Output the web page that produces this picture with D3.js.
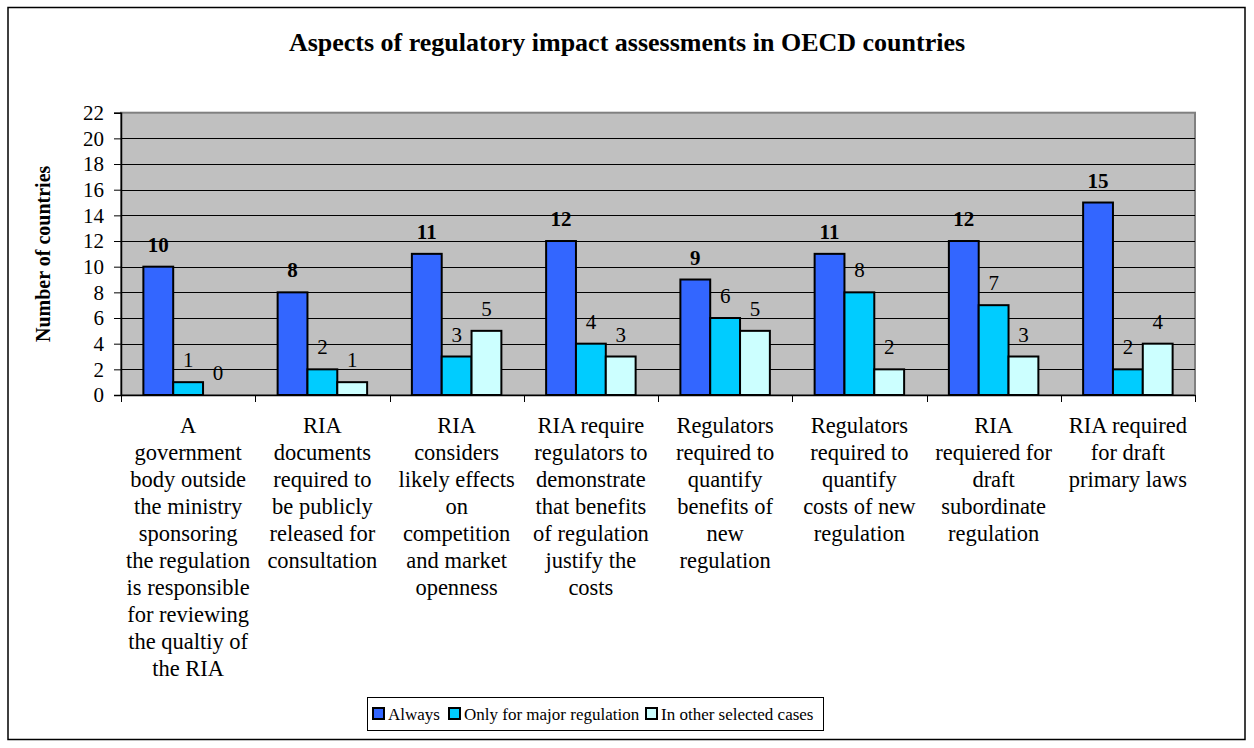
<!DOCTYPE html>
<html>
<head>
<meta charset="utf-8">
<script src="https://cdn.jsdelivr.net/npm/d3@7"></script>
<style>
  html, body { margin: 0; padding: 0; background: #fff; }
  svg { display: block; }
  text { font-family: "Liberation Serif", "Times New Roman", serif; fill: #000; }
</style>
</head>
<body>
<script>
// ---- data ----
const categories = [
  ["A", "government", "body outside", "the ministry", "sponsoring", "the regulation", "is responsible", "for reviewing", "the qualtiy of", "the RIA"],
  ["RIA", "documents", "required to", "be publicly", "released for", "consultation"],
  ["RIA", "considers", "likely effects", "on", "competition", "and market", "openness"],
  ["RIA require", "regulators to", "demonstrate", "that benefits", "of regulation", "justify the", "costs"],
  ["Regulators", "required to", "quantify", "benefits of", "new", "regulation"],
  ["Regulators", "required to", "quantify", "costs of new", "regulation"],
  ["RIA", "requiered for", "draft", "subordinate", "regulation"],
  ["RIA required", "for draft", "primary laws"]
];
const seriesNames = ["Always", "Only for major regulation", "In other selected cases"];
const always = [10, 8, 11, 12, 9, 11, 12, 15];
const majorOnly = [1, 2, 3, 4, 6, 8, 7, 2];
const otherCases = [0, 1, 5, 3, 5, 2, 3, 4];
const yTicks = [0, 2, 4, 6, 8, 10, 12, 14, 16, 18, 20, 22];
const colors = ["#3366FF", "#00CCFF", "#CCFFFF"];
const title = "Aspects of regulatory impact assessments in OECD countries";
const yTitle = "Number of countries";

// ---- layout ----
const W = 1254, H = 748;
const plot = { left: 121, right: 1195, top: 112.7, bottom: 395 };

const svg = d3.select("body").append("svg").attr("width", W).attr("height", H);

// outer border
svg.append("rect").attr("x", 8).attr("y", 7.5).attr("width", 1237).attr("height", 732)
  .attr("fill", "#fff").attr("stroke", "#000").attr("stroke-width", 1.5);

const x = d3.scaleBand().domain(d3.range(categories.length)).range([plot.left, plot.right]).padding(0);
const y = d3.scaleLinear().domain([0, 22]).range([plot.bottom, plot.top]);
const groupFrac = 3 / 4.5;
const xs = d3.scaleBand().domain([0, 1, 2])
  .range([x.bandwidth() * (1 - groupFrac) / 2, x.bandwidth() * (1 + groupFrac) / 2]).padding(0);

// plot background
svg.append("rect").attr("x", plot.left).attr("y", plot.top)
  .attr("width", plot.right - plot.left).attr("height", plot.bottom - plot.top)
  .attr("fill", "#C0C0C0").attr("stroke", "#808080").attr("stroke-width", 2);

// gridlines
svg.append("g").selectAll("line").data(yTicks.filter(t => t > 0 && t < 22)).join("line")
  .attr("x1", plot.left).attr("x2", plot.right)
  .attr("y1", d => Math.round(y(d)) + 0.5).attr("y2", d => Math.round(y(d)) + 0.5)
  .attr("stroke", "#000").attr("stroke-width", 1);

// y axis
const yAxis = d3.axisLeft(y).tickValues(yTicks).tickSize(7).tickPadding(10).tickFormat(d3.format("d"));
const yg = svg.append("g").attr("transform", `translate(${plot.left},0)`).call(yAxis);
yg.select(".domain").attr("stroke", "#000").attr("stroke-width", 1.5);
yg.selectAll(".tick line").attr("stroke", "#000");
yg.selectAll(".tick text").attr("font-size", 21).attr("font-family", "Liberation Serif").attr("fill", "#000");

// bars
const series = [always, majorOnly, otherCases];
series.forEach((vals, si) => {
  svg.append("g").selectAll("rect").data(vals).join("rect")
    .attr("x", (d, i) => x(i) + xs(si))
    .attr("y", d => y(d))
    .attr("width", xs.bandwidth())
    .attr("height", d => y(0) - y(d))
    .attr("fill", colors[si])
    .attr("stroke", "#000").attr("stroke-width", 2)
    .style("display", d => d === 0 ? "none" : null);
  svg.append("g").selectAll("text").data(vals).join("text")
    .attr("x", (d, i) => x(i) + xs(si) + xs.bandwidth() / 2)
    .attr("y", d => y(d) - 15)
    .attr("text-anchor", "middle")
    .attr("font-size", 21)
    .attr("font-weight", si === 0 ? "bold" : "normal")
    .text(d => d);
});

// x axis
const xAxis = d3.axisBottom(x).tickValues([]).tickSizeOuter(0);
const xg = svg.append("g").attr("transform", `translate(0,${plot.bottom})`).call(xAxis);
xg.select(".domain").attr("stroke", "#000").attr("stroke-width", 1.5);
svg.append("g").selectAll("line").data(d3.range(categories.length + 1)).join("line")
  .attr("x1", i => Math.round(plot.left + i * x.bandwidth()) + 0.5)
  .attr("x2", i => Math.round(plot.left + i * x.bandwidth()) + 0.5)
  .attr("y1", plot.bottom).attr("y2", plot.bottom + 7)
  .attr("stroke", "#000").attr("stroke-width", 1);

// category labels
const catG = svg.append("g").selectAll("text").data(categories).join("text")
  .attr("text-anchor", "middle").attr("font-size", 22.5);
catG.each(function (lines, i) {
  d3.select(this).selectAll("tspan").data(lines).join("tspan")
    .attr("x", x(i) + x.bandwidth() / 2)
    .attr("y", (d, j) => 433 + j * 27)
    .text(d => d);
});

// title
svg.append("text").attr("x", 627).attr("y", 51).attr("text-anchor", "middle")
  .attr("font-size", 26).attr("font-weight", "bold").text(title);

// y title
svg.append("text").attr("transform", `translate(50,${(plot.top + plot.bottom) / 2}) rotate(-90)`)
  .attr("text-anchor", "middle").attr("font-size", 20).attr("font-weight", "bold").text(yTitle);

// legend
const lg = svg.append("g");
lg.append("rect").attr("x", 367.5).attr("y", 697.5).attr("width", 456).attr("height", 33)
  .attr("fill", "#fff").attr("stroke", "#000").attr("stroke-width", 1);
const legendX = [373, 449, 646];
seriesNames.forEach((name, i) => {
  lg.append("rect").attr("x", legendX[i]).attr("y", 708).attr("width", 11).attr("height", 11)
    .attr("fill", colors[i]).attr("stroke", "#000").attr("stroke-width", 2);
  lg.append("text").attr("x", legendX[i] + 15).attr("y", 720).attr("font-size", 17).text(name);
});
</script>
</body>
</html>
